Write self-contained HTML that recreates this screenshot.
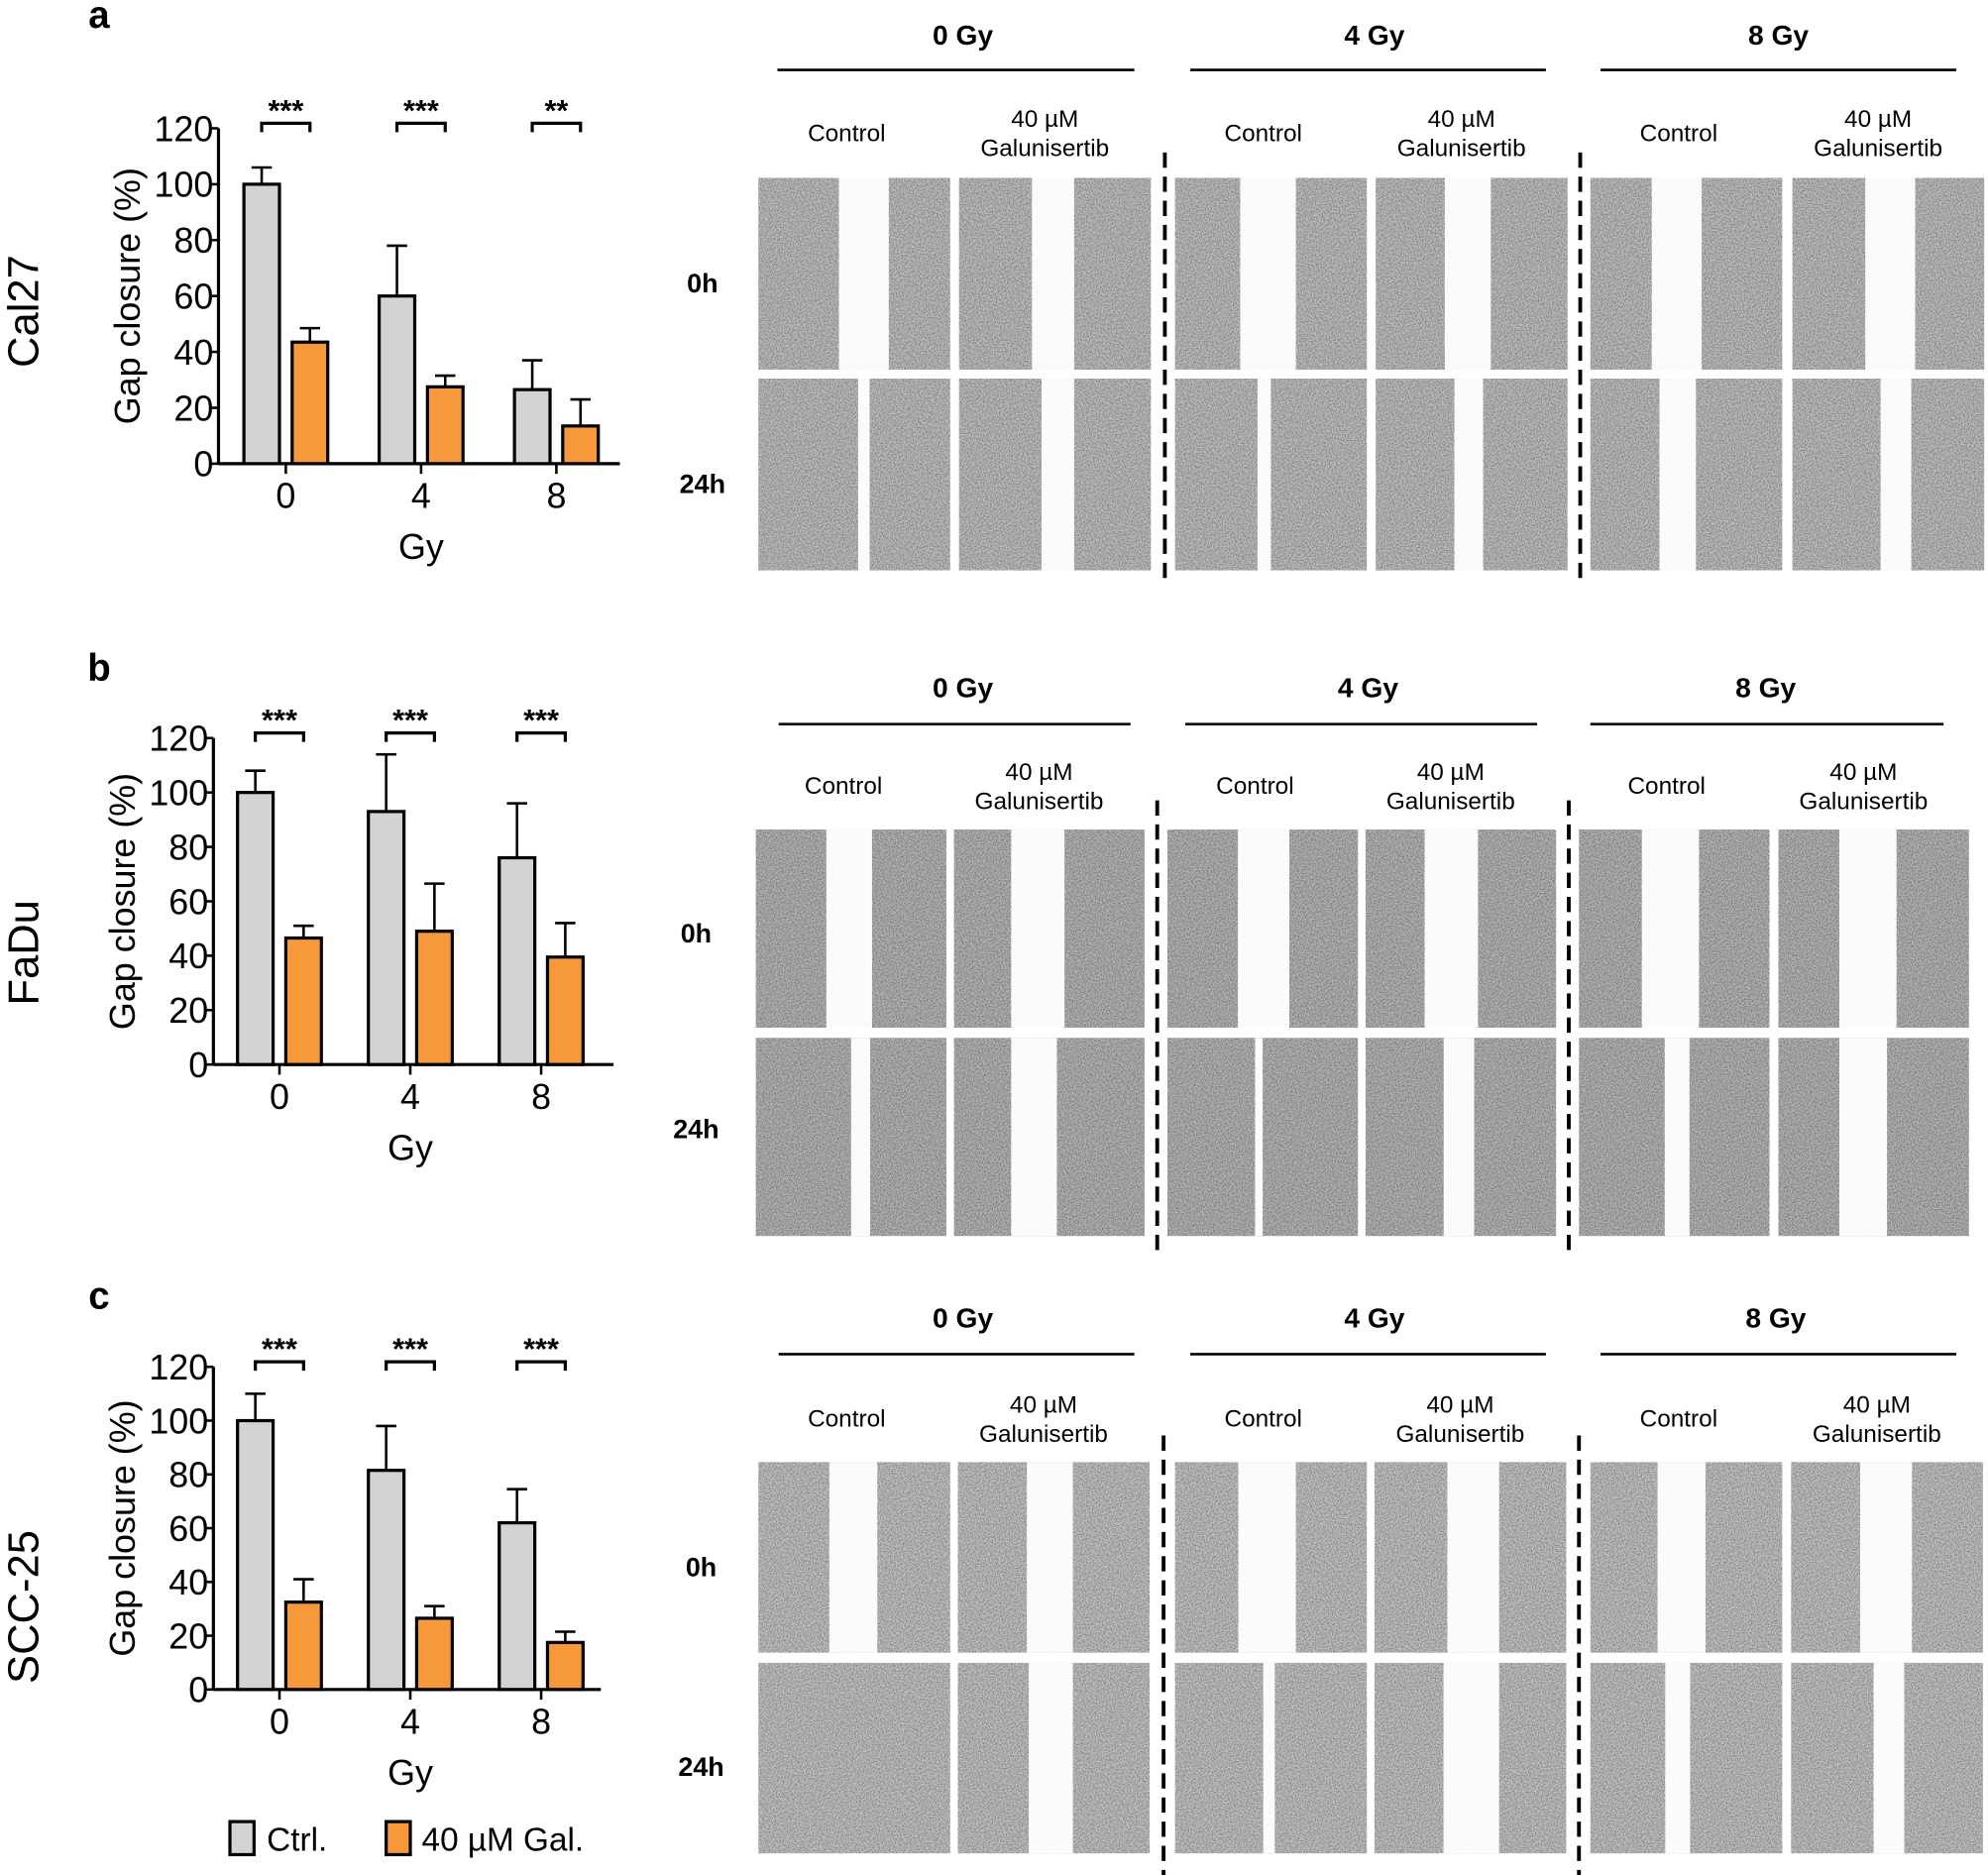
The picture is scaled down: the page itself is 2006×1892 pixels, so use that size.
<!DOCTYPE html>
<html><head><meta charset="utf-8"><style>
html,body{margin:0;padding:0;background:#fff;}
svg{display:block;font-family:"Liberation Sans",Arial,sans-serif;}
</style></head><body>
<svg id="fig" width="2006" height="1892" viewBox="0 0 1565 1476" xmlns="http://www.w3.org/2000/svg">
<defs>
<filter id="tex" x="0" y="0" width="100%" height="100%">
<feTurbulence type="fractalNoise" baseFrequency="0.9" numOctaves="2" seed="3" result="n"/>
<feColorMatrix in="n" type="matrix" values="0 0 0 0 0  0 0 0 0 0  0 0 0 0 0  0 0 0 -2.2 1.5" result="a"/>
<feComposite in="a" in2="SourceGraphic" operator="in"/>
</filter>
</defs>
<g id="root"></g>
</svg>
<script>
// ---- chart data ----
const categories = ["0", "4", "8"];
const ctrlA = [100, 60, 26.5];
const ctrlErrA = [6, 18, 10.5];
const galA = [43.5, 27.5, 13.5];
const galErrA = [5, 4, 9.5];
const sigA = ["***", "***", "**"];
const ctrlB = [100, 93, 76];
const ctrlErrB = [8, 21, 20];
const galB = [46.5, 49, 39.5];
const galErrB = [4.5, 17.5, 12.5];
const sigB = ["***", "***", "***"];
const ctrlC = [100, 81.5, 62];
const ctrlErrC = [10, 16.5, 12.5];
const galC = [32.5, 26.5, 17.5];
const galErrC = [8.5, 4.5, 4];
const sigC = ["***", "***", "***"];
const yTicks = [0, 20, 40, 60, 80, 100, 120];

const NS = "http://www.w3.org/2000/svg";
const root = document.getElementById('root');
function el(tag, attrs, parent, text) {
  const e = document.createElementNS(NS, tag);
  for (const k in attrs) e.setAttribute(k, attrs[k]);
  if (text !== undefined) e.textContent = text;
  (parent || root).appendChild(e);
  return e;
}

function chart(cfg) {
  const g = el('g', {});
  
  
  const y = v => cfg.y0 - (v / 120) * (cfg.y0 - cfg.y120);
  const x = i => cfg.cx0 + i * cfg.step;
  const ya = el('line', {x1: cfg.ax, y1: cfg.y120, x2: cfg.ax, y2: cfg.y0, stroke: '#000', 'stroke-width': 2.5}, g);
  
  
  const xa = el('line', {x1: cfg.ax, y1: cfg.y0, x2: cfg.axEnd, y2: cfg.y0, stroke: '#000', 'stroke-width': 2.5}, g);
  
  
  yTicks.forEach(t => {
    el('line', {x1: cfg.ax - 7, y1: y(t), x2: cfg.ax, y2: y(t), stroke: '#000', 'stroke-width': 2}, g);
    const tl = el('text', {x: cfg.ax - 4, y: y(t) + 10, 'font-size': 28, 'text-anchor': 'end'}, g, t);
    
    
  });
  const bw = 28;
  categories.forEach((c, i) => {
    const cx = x(i);
    el('line', {x1: cx, y1: cfg.y0, x2: cx, y2: cfg.y0 + 8, stroke: '#000', 'stroke-width': 2}, g);
    const xl = el('text', {x: cx, y: cfg.y0 + 35, 'font-size': 28, 'text-anchor': 'middle'}, g, c);
    
    
    [[cfg.ctrl, cfg.ctrlErr, '#d3d3d3', -19, 'ctrl'], [cfg.gal, cfg.galErr, '#f7993a', 19, 'gal']].forEach(s => {
      const v = s[0][i], e = s[1][i], bx = cx + s[3];
      el('line', {x1: bx, y1: y(v), x2: bx, y2: y(v + e), stroke: '#000', 'stroke-width': 2}, g);
      el('line', {x1: bx - 8, y1: y(v + e), x2: bx + 8, y2: y(v + e), stroke: '#000', 'stroke-width': 2}, g);
      const r = el('rect', {x: bx - bw / 2, y: y(v), width: bw, height: y(0) - y(v), fill: s[2], stroke: '#000', 'stroke-width': 2.5}, g);
      
      
    });
    const by = cfg.y120 - 4;
    el('path', {d: `M${cx - 19} ${by + 7} V${by} H${cx + 19} V${by + 7}`, fill: 'none', stroke: '#000', 'stroke-width': 2.5}, g);
    const st = el('text', {x: cx, y: by - 2, 'font-size': 24, 'font-weight': 'bold', 'text-anchor': 'middle'}, g, cfg.sig[i]);
    
    
  });
  const yt = el('text', {transform: `translate(${cfg.ax - 62},${(cfg.y0 + cfg.y120) / 2}) rotate(-90)`, 'font-size': 28, 'text-anchor': 'middle'}, g, 'Gap closure (%)');
  
  
  const xt = el('text', {x: x(1), y: cfg.y0 + 75, 'font-size': 28, 'text-anchor': 'middle'}, g, 'Gy');
  
  
  const cl = el('text', {transform: `translate(30,${cfg.cellY}) rotate(-90)`, 'font-size': 34, 'text-anchor': 'middle'}, g, cfg.cell);
  
  
  const pl = el('text', {x: 78, y: cfg.letterY, 'font-size': 30, 'font-weight': 'bold', 'text-anchor': 'middle'}, g, cfg.letter);
  
  
}

chart({name: 'chart-cal27', ax: 172, axEnd: 488, y0: 365, y120: 101, cx0: 225, step: 106.5, ctrl: ctrlA, ctrlErr: ctrlErrA, gal: galA, galErr: galErrA, sig: sigA, cell: 'Cal27', cellY: 245, letter: 'a', letterY: 22});
chart({name: 'chart-fadu', ax: 168, axEnd: 483, y0: 838, y120: 581, cx0: 220, step: 103, ctrl: ctrlB, ctrlErr: ctrlErrB, gal: galB, galErr: galErrB, sig: sigB, cell: 'FaDu', cellY: 750, letter: 'b', letterY: 536});
chart({name: 'chart-scc25', ax: 168, axEnd: 473, y0: 1330, y120: 1076, cx0: 220, step: 103, ctrl: ctrlC, ctrlErr: ctrlErrC, gal: galC, galErr: galErrC, sig: sigC, cell: 'SCC-25', cellY: 1265, letter: 'c', letterY: 1030});

const lg = el('g', {});


el('rect', {x: 181, y: 1434, width: 19, height: 26, fill: '#d3d3d3', stroke: '#000', 'stroke-width': 2.5}, lg);
const l1 = el('text', {x: 210, y: 1457, 'font-size': 26}, lg, 'Ctrl.');


el('rect', {x: 304, y: 1434, width: 19, height: 26, fill: '#f7993a', stroke: '#000', 'stroke-width': 2.5}, lg);
const l2 = el('text', {x: 332, y: 1457, 'font-size': 26}, lg, '40 µM Gal.');



// ---- micrograph panels ----
const rows = [
  {hdrY: 35, lineY: 55, ctlY: 111, imgY0: 140, imgY1: 298, ih: 151, lab0: 230, lab24: 388,
   lines: [[612, 893], [937, 1217], [1260, 1540]], hx: [758, 1082, 1400], cols: [597, 755, 925, 1083, 1252, 1411], iw: 151, dash: [917, 1244], dashY: [120, 462], labX: 553, g: '#c2c2c2',
   gaps0: [[.42, .68], [.38, .6], [.34, .63], [.36, .6], [.32, .58], [.38, .64]],
   gaps24: [[.52, .58], [.43, .6], [.43, .5], [.41, .56], [.36, .55], [.46, .62]]},
  {hdrY: 549, lineY: 570, ctlY: 625, imgY0: 653, imgY1: 817, ih: 156, lab0: 742, lab24: 896,
   lines: [[613, 890], [933, 1210], [1252, 1530]], hx: [758, 1077, 1390], cols: [595, 751, 919, 1075, 1243, 1400], iw: 150, dash: [911, 1235], dashY: [630, 985], labX: 548, g: '#b8b8b8',
   gaps0: [[.37, .61], [.3, .58], [.37, .64], [.31, .59], [.33, .63], [.32, .62]],
   gaps24: [[.5, .6], [.3, .54], [.46, .5], [.41, .57], [.45, .58], [.32, .57]]},
  {hdrY: 1045, lineY: 1066, ctlY: 1123, imgY0: 1151, imgY1: 1309, ih: 150, lab0: 1241, lab24: 1398,
   lines: [[613, 893], [937, 1217], [1260, 1540]], hx: [758, 1082, 1398], cols: [597, 754, 925, 1082, 1252, 1410], iw: 151, dash: [916, 1243], dashY: [1130, 1476], labX: 552, g: '#c6c6c6',
   gaps0: [[.37, .62], [.36, .6], [.33, .63], [.38, .65], [.35, .6], [.36, .63]],
   gaps24: [null, [.37, .6], [.46, .52], [.36, .65], [.39, .52], [.43, .59]]}
];
const doses = ['0 Gy', '4 Gy', '8 Gy'];
rows.forEach((r, ri) => {
  const g = el('g', {});
  
  
  doses.forEach((d, di) => {
    const h = el('text', {x: r.hx[di], y: r.hdrY, 'font-size': 22, 'font-weight': 'bold', 'text-anchor': 'middle'}, g, d);
    
    
    el('line', {x1: r.lines[di][0], y1: r.lineY, x2: r.lines[di][1], y2: r.lineY, stroke: '#000', 'stroke-width': 2}, g);
    const c1 = r.cols[di * 2] + r.iw / 2 - 6, c2 = r.cols[di * 2 + 1] + r.iw / 2 - 8;
    const t1 = el('text', {x: c1, y: r.ctlY, 'font-size': 19, 'text-anchor': 'middle'}, g, 'Control');
    
    
    const t2 = el('text', {x: c2, y: r.ctlY - 11, 'font-size': 19, 'text-anchor': 'middle'}, g, '40 µM');
    
    
    el('text', {x: c2, y: r.ctlY + 12, 'font-size': 19, 'text-anchor': 'middle'}, g, 'Galunisertib');
  });
  const a = el('text', {x: r.labX, y: r.lab0, 'font-size': 21, 'font-weight': 'bold', 'text-anchor': 'middle'}, g, '0h');
  
  
  const b = el('text', {x: r.labX, y: r.lab24, 'font-size': 21, 'font-weight': 'bold', 'text-anchor': 'middle'}, g, '24h');
  
  
  r.dash.forEach(dx => {
    el('line', {x1: dx, y1: r.dashY[0], x2: dx, y2: r.dashY[1], stroke: '#000', 'stroke-width': 3, 'stroke-dasharray': '12 7'}, g);
  });
  [[r.imgY0, r.gaps0], [r.imgY1, r.gaps24]].forEach(([iy, gaps]) => {
    r.cols.forEach((cx, ci) => {
      const im = el('g', {}, g);
      
      
      el('rect', {x: cx, y: iy, width: r.iw, height: r.ih, fill: r.g}, im);
      el('rect', {x: cx, y: iy, width: r.iw, height: r.ih, fill: '#444', filter: 'url(#tex)', opacity: 0.35}, im);
      const gp = gaps[ci];
      if (gp) el('rect', {x: cx + gp[0] * r.iw, y: iy, width: (gp[1] - gp[0]) * r.iw, height: r.ih, fill: '#fbfbfb'}, im);
    });
  });
});
</script>
</body></html>
